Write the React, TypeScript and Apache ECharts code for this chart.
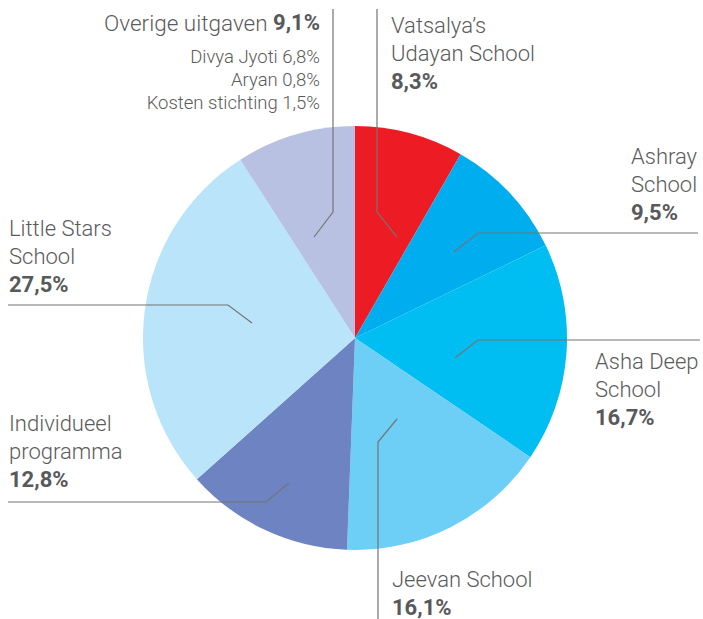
import React, { useEffect, useRef } from "react";
import * as echarts from "echarts";

const categories = [
  "Vatsalya’s\nUdayan School",
  "Ashray\nSchool",
  "Asha Deep\nSchool",
  "Jeevan School",
  "Individueel\nprogramma",
  "Little Stars\nSchool",
  "Overige uitgaven",
];
const values = [8.3, 9.5, 16.7, 16.1, 12.8, 27.5, 9.1];
const colors = ["#ED1C24", "#00AEEF", "#00BDF2", "#6DCFF6", "#6D83C2", "#B9E4F9", "#B8C1E1"];
const subItems = ["Divya Jyoti 6,8%", "Aryan 0,8%", "Kosten stichting 1,5%"];

// label placement (annotation layout only)
const layouts = [
  { x: 391, y: 11, align: "left", pts: [[397, 237], [377, 212], [377, 9]] },
  { x: 631, y: 142.5, align: "left", pts: [[454, 252], [478, 233], [698, 233]] },
  { x: 595, y: 347.5, align: "left", pts: [[455, 358], [478, 340], [700, 340]] },
  { x: 392, y: 565.5, align: "left", pts: [[397, 419], [378, 442], [378, 619]] },
  { x: 9, y: 409.5, align: "left", pts: [[289, 483], [266, 502], [8, 502]] },
  { x: 9, y: 214.5, align: "left", pts: [[252, 323], [228, 305], [8, 305]] },
  { x: 320, y: -0.5, align: "right", pts: [[314, 237], [333, 212], [333, 9]] },
];

const fmt = (v: number) => v.toFixed(1).replace(".", ",") + "%";

export default function App() {
  const ref = useRef<HTMLDivElement>(null);
  useEffect(() => {
    document.body.style.margin = "0";
    const chart = echarts.init(ref.current!, undefined, { renderer: "svg" });
    const font = "Roboto, 'Liberation Sans', Arial, sans-serif";
    chart.setOption({
      animation: false,
      graphic: layouts.map((L) => ({
        type: "polyline",
        z: 100,
        silent: true,
        shape: { points: L.pts },
        style: { stroke: "#747577", lineWidth: 1.2, fill: "none" },
      })),
      series: [
        {
          type: "pie",
          center: [355, 338],
          radius: [0, 212],
          startAngle: 90,
          clockwise: true,
          avoidLabelOverlap: false,
          emphasis: { disabled: true },
          data: categories.map((c, i) => ({
            name: c,
            value: values[i],
            itemStyle: { color: colors[i] },
          })),
          label: {
            show: true,
            position: "outside",
            alignTo: "none",
            fontFamily: font,
            color: "#5a5b5d",
            formatter: (p: any) => {
              const i = p.dataIndex;
              if (i === 6) {
                return (
                  `{o|${categories[i]} }{ob|${fmt(values[i])}}\n` +
                  subItems.map((s) => `{s|${s}}`).join("\n")
                );
              }
              return categories[i]
                .split("\n")
                .map((l) => `{n|${l}}`)
                .join("\n") + `\n{b|${fmt(values[i])}}`;
            },
            rich: {
              n: { fontFamily: font, fontSize: 22, fontWeight: 300, lineHeight: 28, color: "#5a5b5d" },
              b: { fontFamily: font, fontSize: 22, fontWeight: "bold", lineHeight: 28, color: "#58595b" },
              o: { fontFamily: font, fontSize: 22.5, fontWeight: 300, lineHeight: 46, color: "#5a5b5d", align: "right" },
              ob: { fontFamily: font, fontSize: 22, fontWeight: "bold", lineHeight: 46, color: "#58595b", align: "right" },
              s: { fontFamily: font, fontSize: 18.5, fontWeight: 300, lineHeight: 23, color: "#5a5b5d", align: "right" },
            },
          },
          labelLine: { show: false },
          labelLayout: (params: any) => {
            const L = layouts[params.dataIndex];
            return {
              x: L.x,
              y: L.y,
              align: L.align,
              verticalAlign: "top",
            };
          },
        },
      ],
    });
    return () => chart.dispose();
  }, []);
  return <div ref={ref} style={{ width: 703, height: 619 }} />;
}
